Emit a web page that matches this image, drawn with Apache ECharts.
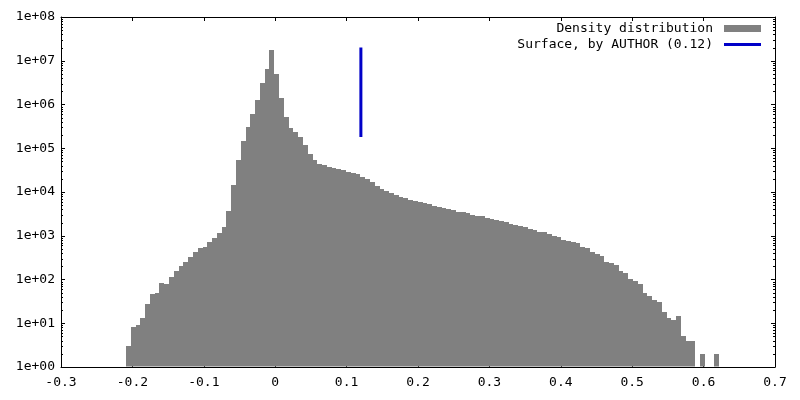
<!DOCTYPE html>
<html>
<head>
<meta charset="utf-8">
<script src="https://cdn.jsdelivr.net/npm/echarts@6/dist/echarts.min.js"></script>
<style>
html,body{margin:0;padding:0;background:#fff;}
#chart{width:800px;height:400px;}
</style>
</head>
<body>
<div id="chart"></div>
<script>
// Histogram bins (left edge = binStart + i*binWidth)
const binStart = -0.209;
const binWidth = 0.0067;
const counts = [
  3, 8, 9, 13, 27, 47, 49, 84, 79, 114,
  159, 207, 255, 332, 425, 525, 562, 720, 888, 1174,
  1585, 3680, 14450, 53900, 148800, 301000, 607000, 1267000, 3100000, 6480000,
  17600000, 4980000, 1408000, 518000, 290000, 235000, 181000, 118700, 73900, 53900,
  43650, 41400, 37300, 35400, 33550, 31300, 28200, 26760, 25400, 22400,
  19830, 16930, 13720, 11710, 10540, 9490, 8540, 7810, 7290, 6560,
  6230, 5910, 5600, 5320, 4860, 4540, 4380, 4090, 3820, 3490,
  3490, 3310, 3030, 2870, 2870, 2545, 2380, 2255, 2140, 2030,
  1856, 1761, 1671, 1585, 1427, 1353, 1238, 1238, 1096, 987,
  936, 800, 759, 731, 683, 553, 525, 425, 383, 345,
  251, 238, 215, 156, 141, 103, 92, 79, 49, 42,
  34, 31, 18, 13, 12, 15, 5, 4, 4, 0,
  2, 0, 0, 2
];
// Surface marker
const surfaceX = 0.12;
const surfaceRange = [1.8e5, 2e7];
// Axis settings
const xMin = -0.3, xMax = 0.7, xStep = 0.1;
const yMin = 1, yMax = 1e8;
const seriesNames = ['Density distribution', 'Surface, by AUTHOR (0.12)'];

const minorTickValues = [];
for (let e = 0; e < 8; e++) {
  for (let m = 2; m <= 9; m++) minorTickValues.push(m * Math.pow(10, e));
}

const FONT = 'DejaVu Sans Mono';
const histData = counts.map((c, i) => [binStart + i * binWidth, c]);

const chart = echarts.init(document.getElementById('chart'), null, {renderer: 'canvas'});

const lineCommon = {show: true, onZero: false, lineStyle: {color: '#000', width: 1}};

chart.setOption({
  backgroundColor: '#fff',
  animation: false,
  grid: {left: 61, right: 25, top: 17, bottom: 33, containLabel: false},
  legend: [
    {
      data: [{name: seriesNames[0], icon: 'rect'}],
      right: 39, top: 22, padding: 0, orient: 'vertical', align: 'right',
      itemWidth: 37, itemHeight: 7, selectedMode: false,
      textStyle: {fontFamily: FONT, fontSize: 13, color: '#000', padding: [0, 6, 0, 0]}
    },
    {
      data: [{name: seriesNames[1], icon: 'rect'}],
      right: 39, top: 38, padding: 0, orient: 'vertical', align: 'right',
      itemWidth: 37, itemHeight: 3, selectedMode: false,
      textStyle: {fontFamily: FONT, fontSize: 13, color: '#000', padding: [0, 6, 0, 0]}
    }
  ],
  xAxis: [
    {
      type: 'value', position: 'bottom', min: xMin, max: xMax, interval: xStep,
      axisLine: lineCommon, splitLine: {show: false},
      axisTick: {show: true, inside: true, length: 4, lineStyle: {color: '#000'}},
      axisLabel: {show: true, color: '#000', fontFamily: FONT, fontSize: 13, margin: 9,
        formatter: v => { const r = Math.round(v * 10) / 10; return r === 0 ? '0' : String(r); }}
    },
    {
      type: 'value', position: 'top', min: xMin, max: xMax, interval: xStep,
      axisLine: lineCommon, splitLine: {show: false},
      axisTick: {show: true, inside: true, length: 4, lineStyle: {color: '#000'}},
      axisLabel: {show: false}
    }
  ],
  yAxis: [
    {
      type: 'log', logBase: 10, position: 'left', min: yMin, max: yMax, splitNumber: 8,
      axisLine: lineCommon, splitLine: {show: false},
      axisTick: {show: true, inside: true, length: 4, lineStyle: {color: '#000'}},
      axisLabel: {show: true, color: '#000', fontFamily: FONT, fontSize: 13, margin: 6,
        formatter: v => { const e = Math.round(Math.log10(v)); return '1e+' + (e < 10 ? '0' : '') + e; }}
    },
    {
      type: 'log', logBase: 10, position: 'right', min: yMin, max: yMax, splitNumber: 8,
      axisLine: lineCommon, splitLine: {show: false},
      axisTick: {show: true, inside: true, length: 4, lineStyle: {color: '#000'}},
      axisLabel: {show: false}
    }
  ],
  series: [
    {
      name: seriesNames[0],
      type: 'custom',
      xAxisIndex: 0, yAxisIndex: 0,
      itemStyle: {color: '#808080'},
      encode: {x: 0, y: 1},
      data: histData,
      z: 2,
      silent: true,
      renderItem: function (params, api) {
        const x = api.value(0), v = api.value(1);
        if (!v || v <= yMin) return null;
        const pTop = api.coord([x, v]);
        const pBot = api.coord([x + binWidth, yMin]);
        const x0 = Math.round(pTop[0]), x1 = Math.round(pBot[0]);
        const yT = Math.round(pTop[1]);
        const yB = pBot[1] - 0.5;
        return {
          type: 'rect',
          shape: {x: x0, y: yT, width: x1 - x0, height: yB - yT},
          style: {fill: '#808080', stroke: null}
        };
      }
    },
    {
      name: seriesNames[1],
      type: 'line',
      xAxisIndex: 0, yAxisIndex: 0,
      data: [[surfaceX, surfaceRange[0]], [surfaceX, surfaceRange[1]]],
      showSymbol: false, symbol: 'none',
      itemStyle: {color: '#0000c8'},
      lineStyle: {color: '#0000c8', width: 3},
      z: 3,
      silent: true
    },
    {
      name: 'minorTicks',
      type: 'custom',
      xAxisIndex: 0, yAxisIndex: 0,
      data: minorTickValues.map(v => [xMin, v]),
      encode: {x: 0, y: 1},
      silent: true,
      z: 4,
      renderItem: function (params, api) {
        const v = api.value(1);
        const pl = api.coord([xMin, v]);
        const pr = api.coord([xMax, v]);
        const y = Math.round(pl[1]) + 0.5;
        return {
          type: 'group',
          children: [
            {type: 'line', shape: {x1: pl[0], y1: y, x2: pl[0] + 2, y2: y}, style: {stroke: '#000', lineWidth: 1}},
            {type: 'line', shape: {x1: pr[0], y1: y, x2: pr[0] - 2, y2: y}, style: {stroke: '#000', lineWidth: 1}}
          ]
        };
      }
    }
  ]
});
</script>
</body>
</html>
